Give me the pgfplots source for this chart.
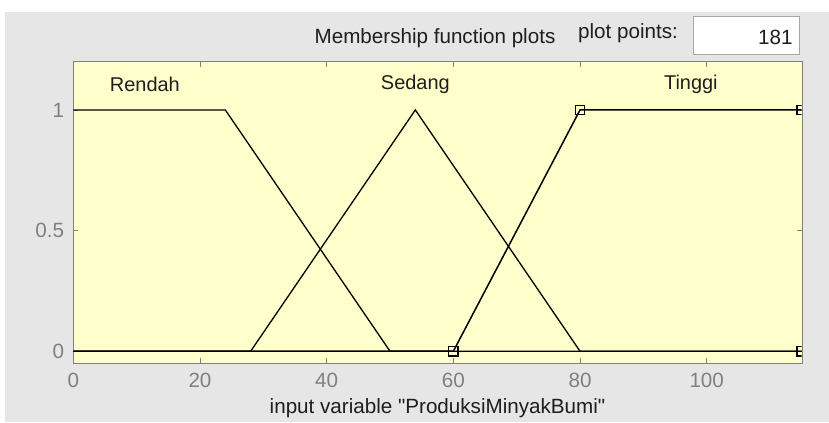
\documentclass[border=0pt]{standalone}
\usepackage{pgfplots}
\pgfplotsset{compat=1.18}
\usepackage{fontspec}
\setmainfont{Liberation Sans}
\newfontfamily\mf{Liberation Sans}
\definecolor{bggray}{RGB}{230,230,230}
\definecolor{axbg}{RGB}{255,255,204}
\definecolor{axline}{RGB}{128,128,128}
\definecolor{tickgray}{RGB}{128,128,128}
\definecolor{txt}{RGB}{30,30,30}
\newcommand\ff{\mf\fontsize{20.7}{24}\selectfont}
\newcommand\fl{\mf\fontsize{20}{24}\selectfont}
\begin{document}
\begin{tikzpicture}[x=1bp,y=1bp]
\path[use as bounding box] (0,0) rectangle (829,422);
\fill[white] (0,0) rectangle (829,422);
\fill[bggray] (5,0) rectangle (829,410);
\node[font=\ff, text=txt, anchor=center] at (435,384) {Membership function plots};
\node[font=\ff, text=txt] at (628,389) {plot points:};
\filldraw[fill=white, draw=axline!70] (693.3,367.7) rectangle (799.3,406);
\node[font=\ff, text=txt, anchor=east, inner sep=0pt] at (792.7,385) {181};
\begin{axis}[
  at={(73.3bp,58.7bp)}, anchor=south west,
  width=728.4bp, height=301.6bp, scale only axis,
  xmin=0, xmax=115, ymin=-0.05, ymax=1.2,
  axis background/.style={fill=axbg},
  axis line style={axline},
  tick align=inside,
  major tick length=5bp,
  tick style={axline, line width=0.6bp},
  xtick={0,20,40,60,80,100}, ytick={0,0.5,1},
  clip marker paths=true,
  /pgf/number format/assume math mode=true,
  tick label style={font=\ff, text=tickgray},
  xticklabel style={inner sep=0pt, yshift=-10bp},
  yticklabel style={inner sep=0pt, xshift=-9bp},
  xlabel={input variable "ProduksiMinyakBumi"},
  xlabel style={font=\ff, text=txt, at={(axis description cs:0.5,-0.148)}, anchor=center},
]
\addplot[black, line width=1.3bp] coordinates {(0,1) (24,1) (50,0) (115,0)};
\addplot[black, line width=1.3bp] coordinates {(0,0) (28,0) (54,1) (80,0) (115,0)};
\addplot[black, line width=1.5bp] coordinates {(0,0) (60,0) (80,1) (115,1)};
\addplot[only marks, mark=square, mark size=4.8bp, mark options={black, line width=1.3bp}] coordinates {(60,0) (80,1) (115,1) (115,0)};
\node[font=\fl, text=txt] at (axis cs:11.3,1.105) {Rendah};
\node[font=\fl, text=txt] at (axis cs:54,1.105) {Sedang};
\node[font=\fl, text=txt] at (axis cs:97.5,1.105) {Tinggi};
\end{axis}
\end{tikzpicture}
\end{document}
